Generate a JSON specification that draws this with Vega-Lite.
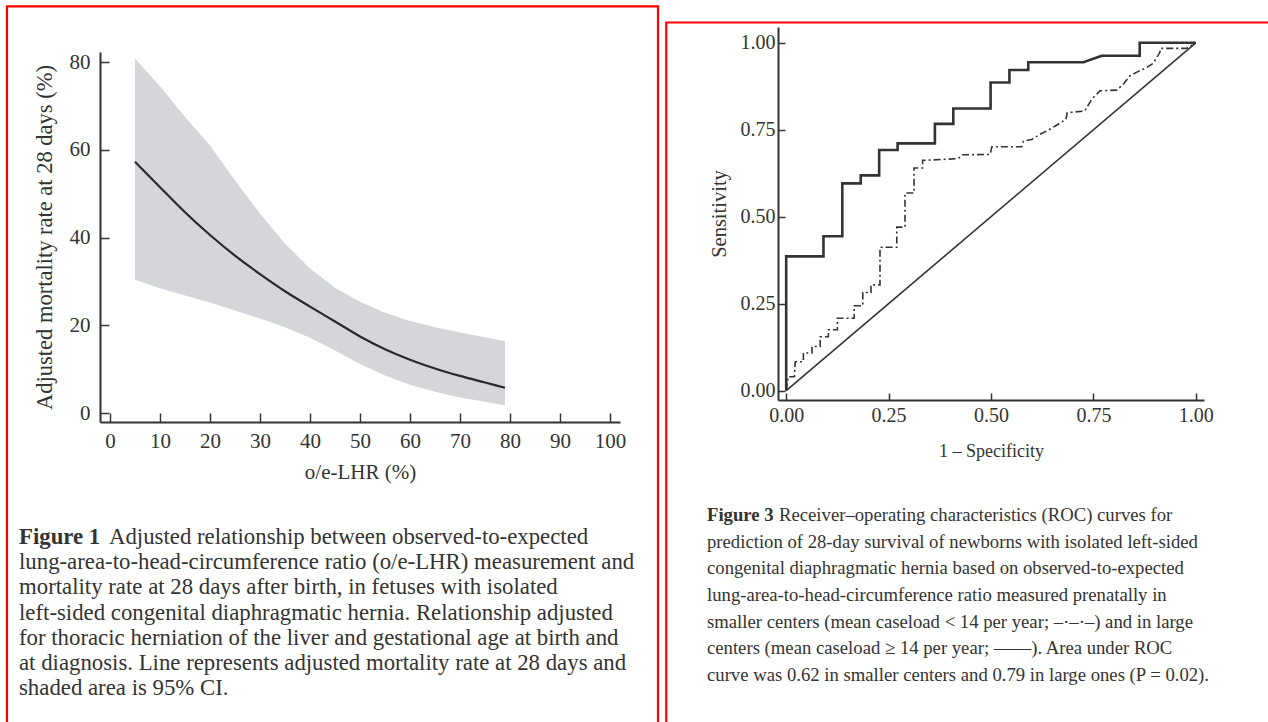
{
  "$schema": "https://vega.github.io/schema/vega-lite/v6.json",
  "width": 1268,
  "height": 722,
  "padding": 0,
  "autosize": "none",
  "background": "white",
  "config": {"view": {"stroke": null}, "font": "Liberation Serif", "axis": {"grid": false, "labelFlush": false, "labelOverlap": false}},
  "datasets": {
    "mort": [
      {"x": 5, "fit": 57.3, "lo": 30.4, "hi": 80.8},
      {"x": 10, "fit": 51.5, "lo": 28.5, "hi": 74.5},
      {"x": 15, "fit": 45.8, "lo": 26.8, "hi": 67.5},
      {"x": 20, "fit": 40.6, "lo": 25.2, "hi": 61.0},
      {"x": 25, "fit": 35.9, "lo": 23.4, "hi": 53.0},
      {"x": 30, "fit": 31.7, "lo": 21.6, "hi": 45.5},
      {"x": 35, "fit": 27.8, "lo": 19.6, "hi": 38.6},
      {"x": 40, "fit": 24.3, "lo": 17.2, "hi": 33.0},
      {"x": 45, "fit": 20.9, "lo": 14.3, "hi": 28.6},
      {"x": 50, "fit": 17.5, "lo": 11.2, "hi": 25.4},
      {"x": 55, "fit": 14.6, "lo": 8.6, "hi": 22.9},
      {"x": 60, "fit": 12.2, "lo": 6.5, "hi": 21.0},
      {"x": 65, "fit": 10.2, "lo": 4.9, "hi": 19.6},
      {"x": 70, "fit": 8.5, "lo": 3.6, "hi": 18.4},
      {"x": 75, "fit": 7.0, "lo": 2.6, "hi": 17.3},
      {"x": 79, "fit": 5.8, "lo": 1.8, "hi": 16.4}
    ],
    "large": [
      {"i": 0, "fpr": 0, "tpr": 0},
      {"i": 1, "fpr": 0, "tpr": 0.386},
      {"i": 2, "fpr": 0.091, "tpr": 0.386},
      {"i": 3, "fpr": 0.091, "tpr": 0.444},
      {"i": 4, "fpr": 0.137, "tpr": 0.444},
      {"i": 5, "fpr": 0.137, "tpr": 0.596},
      {"i": 6, "fpr": 0.182, "tpr": 0.596},
      {"i": 7, "fpr": 0.182, "tpr": 0.619},
      {"i": 8, "fpr": 0.227, "tpr": 0.619},
      {"i": 9, "fpr": 0.227, "tpr": 0.692},
      {"i": 10, "fpr": 0.272, "tpr": 0.692},
      {"i": 11, "fpr": 0.272, "tpr": 0.711},
      {"i": 12, "fpr": 0.363, "tpr": 0.711},
      {"i": 13, "fpr": 0.363, "tpr": 0.767},
      {"i": 14, "fpr": 0.408, "tpr": 0.767},
      {"i": 15, "fpr": 0.408, "tpr": 0.811},
      {"i": 16, "fpr": 0.499, "tpr": 0.811},
      {"i": 17, "fpr": 0.499, "tpr": 0.886},
      {"i": 18, "fpr": 0.545, "tpr": 0.886},
      {"i": 19, "fpr": 0.545, "tpr": 0.922},
      {"i": 20, "fpr": 0.591, "tpr": 0.922},
      {"i": 21, "fpr": 0.591, "tpr": 0.944},
      {"i": 22, "fpr": 0.726, "tpr": 0.944},
      {"i": 23, "fpr": 0.770, "tpr": 0.963},
      {"i": 24, "fpr": 0.863, "tpr": 0.963},
      {"i": 25, "fpr": 0.863, "tpr": 1.0},
      {"i": 26, "fpr": 1.0, "tpr": 1.0}
    ],
    "small": [
      {"i": 0, "fpr": 0, "tpr": 0},
      {"i": 1, "fpr": 0.005, "tpr": 0.040},
      {"i": 2, "fpr": 0.020, "tpr": 0.040},
      {"i": 3, "fpr": 0.022, "tpr": 0.083},
      {"i": 4, "fpr": 0.042, "tpr": 0.083},
      {"i": 5, "fpr": 0.042, "tpr": 0.108},
      {"i": 6, "fpr": 0.063, "tpr": 0.108},
      {"i": 7, "fpr": 0.063, "tpr": 0.127},
      {"i": 8, "fpr": 0.083, "tpr": 0.127},
      {"i": 9, "fpr": 0.083, "tpr": 0.155},
      {"i": 10, "fpr": 0.103, "tpr": 0.155},
      {"i": 11, "fpr": 0.103, "tpr": 0.175},
      {"i": 12, "fpr": 0.125, "tpr": 0.175},
      {"i": 13, "fpr": 0.125, "tpr": 0.208},
      {"i": 14, "fpr": 0.166, "tpr": 0.208},
      {"i": 15, "fpr": 0.166, "tpr": 0.244},
      {"i": 16, "fpr": 0.187, "tpr": 0.244},
      {"i": 17, "fpr": 0.187, "tpr": 0.282},
      {"i": 18, "fpr": 0.207, "tpr": 0.282},
      {"i": 19, "fpr": 0.207, "tpr": 0.304},
      {"i": 20, "fpr": 0.229, "tpr": 0.304},
      {"i": 21, "fpr": 0.229, "tpr": 0.412},
      {"i": 22, "fpr": 0.270, "tpr": 0.412},
      {"i": 23, "fpr": 0.270, "tpr": 0.470},
      {"i": 24, "fpr": 0.290, "tpr": 0.470},
      {"i": 25, "fpr": 0.290, "tpr": 0.568},
      {"i": 26, "fpr": 0.312, "tpr": 0.568},
      {"i": 27, "fpr": 0.312, "tpr": 0.640},
      {"i": 28, "fpr": 0.333, "tpr": 0.640},
      {"i": 29, "fpr": 0.333, "tpr": 0.662},
      {"i": 30, "fpr": 0.420, "tpr": 0.667},
      {"i": 31, "fpr": 0.430, "tpr": 0.678},
      {"i": 32, "fpr": 0.498, "tpr": 0.679},
      {"i": 33, "fpr": 0.502, "tpr": 0.701},
      {"i": 34, "fpr": 0.575, "tpr": 0.701},
      {"i": 35, "fpr": 0.579, "tpr": 0.717},
      {"i": 36, "fpr": 0.599, "tpr": 0.722},
      {"i": 37, "fpr": 0.620, "tpr": 0.737},
      {"i": 38, "fpr": 0.640, "tpr": 0.749},
      {"i": 39, "fpr": 0.660, "tpr": 0.763},
      {"i": 40, "fpr": 0.683, "tpr": 0.780},
      {"i": 41, "fpr": 0.686, "tpr": 0.799},
      {"i": 42, "fpr": 0.729, "tpr": 0.804},
      {"i": 43, "fpr": 0.746, "tpr": 0.838},
      {"i": 44, "fpr": 0.766, "tpr": 0.862},
      {"i": 45, "fpr": 0.807, "tpr": 0.864},
      {"i": 46, "fpr": 0.823, "tpr": 0.881},
      {"i": 47, "fpr": 0.839, "tpr": 0.905},
      {"i": 48, "fpr": 0.855, "tpr": 0.915},
      {"i": 49, "fpr": 0.880, "tpr": 0.929},
      {"i": 50, "fpr": 0.896, "tpr": 0.941},
      {"i": 51, "fpr": 0.912, "tpr": 0.972},
      {"i": 52, "fpr": 0.914, "tpr": 0.984},
      {"i": 53, "fpr": 0.977, "tpr": 0.984},
      {"i": 54, "fpr": 1.0, "tpr": 1.0}
    ],
    "diag": [
      {"fpr": 0, "tpr": 0},
      {"fpr": 1, "tpr": 1}
    ],
    "capL": [
      {"line": 2, "t": "lung-area-to-head-circumference ratio (o/e-LHR) measurement and"},
      {"line": 3, "t": "mortality rate at 28 days after birth, in fetuses with isolated"},
      {"line": 4, "t": "left-sided congenital diaphragmatic hernia. Relationship adjusted"},
      {"line": 5, "t": "for thoracic herniation of the liver and gestational age at birth and"},
      {"line": 6, "t": "at diagnosis. Line represents adjusted mortality rate at 28 days and"},
      {"line": 7, "t": "shaded area is 95% CI."}
    ],
    "capR": [
      {"line": 2, "t": "prediction of 28-day survival of newborns with isolated left-sided"},
      {"line": 3, "t": "congenital diaphragmatic hernia based on observed-to-expected"},
      {"line": 4, "t": "lung-area-to-head-circumference ratio measured prenatally in"},
      {"line": 5, "t": "smaller centers (mean caseload < 14 per year; –·–·–) and in large"},
      {"line": 6, "t": "centers (mean caseload ≥ 14 per year; ——). Area under ROC"},
      {"line": 7, "t": "curve was 0.62 in smaller centers and 0.79 in large ones (P = 0.02)."}
    ]
  },
  "layer": [
    {
      "layer": [
        {
          "data": {"name": "mort"},
          "mark": {"type": "area", "color": "#d5d6d9"},
          "encoding": {
            "x": {"field": "x", "type": "quantitative",
              "scale": {"domain": [-2, 102], "range": [100, 620], "nice": false, "zero": false},
              "axis": {"orient": "bottom", "offset": -300, "values": [0, 10, 20, 30, 40, 50, 60, 70, 80, 90, 100],
                "tickSize": -9, "tickWidth": 1.5, "tickColor": "#333", "domainColor": "#333", "domainWidth": 2,
                "labelFont": "Liberation Serif", "labelFontSize": 21, "labelColor": "#333", "labelPadding": 17,
                "title": "o/e-LHR (%)", "titleFont": "Liberation Serif", "titleFontSize": 21, "titleFontWeight": "normal", "titleColor": "#333", "titlePadding": 10}},
            "y": {"field": "lo", "type": "quantitative",
              "scale": {"domain": [-2, 82.3], "range": [422, 52], "nice": false, "zero": false},
              "axis": {"orient": "left", "offset": -100, "values": [0, 20, 40, 60, 80],
                "tickSize": -9, "tickWidth": 1.5, "tickColor": "#333", "domainColor": "#333", "domainWidth": 2,
                "labelFont": "Liberation Serif", "labelFontSize": 21, "labelColor": "#333", "labelPadding": 19,
                "title": "Adjusted mortality rate at 28 days (%)", "titleFont": "Liberation Serif", "titleFontSize": 22.5, "titleFontWeight": "normal", "titleColor": "#333", "titlePadding": 13}},
            "y2": {"field": "hi"}
          }
        },
        {
          "data": {"name": "mort"},
          "mark": {"type": "line", "color": "#2a2a2a", "strokeWidth": 2.2, "interpolate": "monotone"},
          "encoding": {
            "x": {"field": "x", "type": "quantitative"},
            "y": {"field": "fit", "type": "quantitative"}
          }
        },
        {
          "data": {"values": [{}]},
          "mark": {"type": "rect", "filled": false, "stroke": "#ff0000", "strokeWidth": 2.2},
          "encoding": {
            "x": {"datum": -20.6},
            "x2": {"datum": 109.6},
            "y": {"datum": 92.7},
            "y2": {"datum": -72}
          }
        }
      ]
    },
    {
      "layer": [
        {
          "data": {"name": "diag"},
          "mark": {"type": "line", "color": "#333", "strokeWidth": 1.6},
          "encoding": {
            "x": {"field": "fpr", "type": "quantitative",
              "scale": {"domain": [-0.02, 1.02], "range": [778, 1204], "nice": false, "zero": false},
              "axis": {"orient": "bottom", "offset": -322, "values": [0, 0.25, 0.5, 0.75, 1], "format": ".2f",
                "tickSize": -7, "tickWidth": 1.5, "tickColor": "#333", "domainColor": "#333", "domainWidth": 2,
                "labelFont": "Liberation Serif", "labelFontSize": 20, "labelColor": "#333", "labelPadding": 12,
                "title": "1 – Specificity", "titleFont": "Liberation Serif", "titleFontSize": 18, "titleFontWeight": "normal", "titleColor": "#333", "titlePadding": 17}},
            "y": {"field": "tpr", "type": "quantitative",
              "scale": {"domain": [-0.027, 1.0455], "range": [400, 27], "nice": false, "zero": false},
              "axis": {"orient": "left", "offset": -778, "values": [0, 0.25, 0.5, 0.75, 1], "format": ".2f",
                "tickSize": -7, "tickWidth": 1.5, "tickColor": "#333", "domainColor": "#333", "domainWidth": 2,
                "labelFont": "Liberation Serif", "labelFontSize": 20, "labelColor": "#333", "labelPadding": 10,
                "title": "Sensitivity", "titleFont": "Liberation Serif", "titleFontSize": 20.5, "titleFontWeight": "normal", "titleColor": "#333", "titlePadding": 11}}
          }
        },
        {
          "data": {"name": "small"},
          "mark": {"type": "line", "color": "#333", "strokeWidth": 1.6, "strokeDash": [7, 3, 2, 3]},
          "encoding": {
            "x": {"field": "fpr", "type": "quantitative"},
            "y": {"field": "tpr", "type": "quantitative"},
            "order": {"field": "i", "type": "quantitative"}
          }
        },
        {
          "data": {"name": "large"},
          "mark": {"type": "line", "color": "#333", "strokeWidth": 2.6},
          "encoding": {
            "x": {"field": "fpr", "type": "quantitative"},
            "y": {"field": "tpr", "type": "quantitative"},
            "order": {"field": "i", "type": "quantitative"}
          }
        },
        {
          "data": {"values": [{}]},
          "mark": {"type": "rect", "filled": false, "stroke": "#ff0000", "strokeWidth": 2.2},
          "encoding": {
            "x": {"datum": -0.2927},
            "x2": {"datum": 1.2},
            "y": {"datum": 1.0584},
            "y2": {"datum": -0.98}
          }
        }
      ]
    },
    {
      "layer": [
        {
          "data": {"values": [{"line": 1, "t": "Figure 1"}]},
          "mark": {"type": "text", "align": "left", "baseline": "middle", "font": "Liberation Serif", "fontSize": 22.8, "fontWeight": "bold", "color": "#333"},
          "encoding": {
            "x": {"datum": 0, "scale": {"domain": [0, 1], "range": [19, 660], "nice": false}, "axis": null},
            "y": {"field": "line", "type": "quantitative", "scale": {"domain": [1, 7], "range": [537, 688], "nice": false, "zero": false}, "axis": null},
            "text": {"field": "t"}
          }
        },
        {
          "data": {"values": [{"line": 1, "t": "Adjusted relationship between observed-to-expected"}]},
          "mark": {"type": "text", "align": "left", "baseline": "middle", "font": "Liberation Serif", "fontSize": 22.8, "color": "#333", "dx": 90},
          "encoding": {
            "x": {"datum": 0, "axis": null},
            "y": {"field": "line", "type": "quantitative", "axis": null},
            "text": {"field": "t"}
          }
        },
        {
          "data": {"name": "capL"},
          "mark": {"type": "text", "align": "left", "baseline": "middle", "font": "Liberation Serif", "fontSize": 22.8, "color": "#333"},
          "encoding": {
            "x": {"datum": 0, "axis": null},
            "y": {"field": "line", "type": "quantitative", "axis": null},
            "text": {"field": "t"}
          }
        }
      ]
    },
    {
      "layer": [
        {
          "data": {"values": [{"line": 1, "t": "Figure 3"}]},
          "mark": {"type": "text", "align": "left", "baseline": "middle", "font": "Liberation Serif", "fontSize": 18.7, "fontWeight": "bold", "color": "#333"},
          "encoding": {
            "x": {"datum": 0, "scale": {"domain": [0, 1], "range": [707, 1260], "nice": false}, "axis": null},
            "y": {"field": "line", "type": "quantitative", "scale": {"domain": [1, 7], "range": [515, 675], "nice": false, "zero": false}, "axis": null},
            "text": {"field": "t"}
          }
        },
        {
          "data": {"values": [{"line": 1, "t": "Receiver–operating characteristics (ROC) curves for"}]},
          "mark": {"type": "text", "align": "left", "baseline": "middle", "font": "Liberation Serif", "fontSize": 18.7, "color": "#333", "dx": 72},
          "encoding": {
            "x": {"datum": 0, "axis": null},
            "y": {"field": "line", "type": "quantitative", "axis": null},
            "text": {"field": "t"}
          }
        },
        {
          "data": {"name": "capR"},
          "mark": {"type": "text", "align": "left", "baseline": "middle", "font": "Liberation Serif", "fontSize": 18.7, "color": "#333"},
          "encoding": {
            "x": {"datum": 0, "axis": null},
            "y": {"field": "line", "type": "quantitative", "axis": null},
            "text": {"field": "t"}
          }
        }
      ]
    }
  ],
  "resolve": {
    "scale": {"x": "independent", "y": "independent"},
    "axis": {"x": "independent", "y": "independent"}
  }
}
